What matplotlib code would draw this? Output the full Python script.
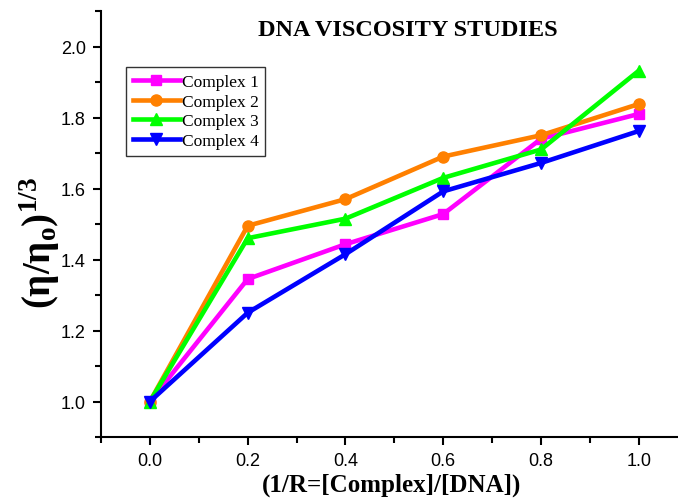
import matplotlib
matplotlib.use("Agg")
import matplotlib.pyplot as plt
from matplotlib.ticker import MultipleLocator

x_ratio = [0.0, 0.2, 0.4, 0.6, 0.8, 1.0]
complex_1 = [1.0, 1.345, 1.443, 1.528, 1.74, 1.81]
complex_2 = [1.0, 1.495, 1.57, 1.69, 1.75, 1.838]
complex_3 = [1.0, 1.46, 1.515, 1.63, 1.71, 1.932]
complex_4 = [1.0, 1.25, 1.415, 1.592, 1.672, 1.762]
labels = ["Complex 1", "Complex 2", "Complex 3", "Complex 4"]

plt.rcParams["mathtext.fontset"] = "custom"
plt.rcParams["mathtext.rm"] = "Liberation Serif"
plt.rcParams["mathtext.it"] = "Liberation Serif:italic"
plt.rcParams["mathtext.bf"] = "Liberation Serif:bold"

fig = plt.figure(figsize=(6.78, 5.02), dpi=100)
ax = fig.add_axes([101 / 678, 64 / 502, 577 / 678, 426 / 502])

styles = [("#ff00ff", "s", 7), ("#ff8000", "o", 8), ("#00ff00", "^", 8), ("#0000ff", "v", 8)]
for ys, lab, (col, mk, ms) in zip([complex_1, complex_2, complex_3, complex_4], labels, styles):
    ax.plot(x_ratio, ys, color=col, marker=mk, markersize=ms, linewidth=3.3, label=lab, clip_on=False)

ax.set_xlim(-0.1, 1.08)
ax.set_ylim(0.9, 2.1)
ax.xaxis.set_minor_locator(MultipleLocator(0.1))
ax.yaxis.set_minor_locator(MultipleLocator(0.1))
ax.set_xticks([0.0, 0.2, 0.4, 0.6, 0.8, 1.0])
ax.set_yticks([1.0, 1.2, 1.4, 1.6, 1.8, 2.0])

for s in ["top", "right"]:
    ax.spines[s].set_visible(False)
for s in ["left", "bottom"]:
    ax.spines[s].set_linewidth(1.5)
ax.tick_params(which="major", direction="out", length=6, width=1.5, labelsize=13, pad=5)
ax.tick_params(which="minor", direction="out", length=4, width=1.5)
for t in ax.get_xticklabels() + ax.get_yticklabels():
    t.set_fontfamily("Liberation Sans")

ax.set_xlabel("(1/R=[Complex]/[DNA])", fontsize=18, fontweight="bold", family="Liberation Serif")
ax.xaxis.set_label_coords((392 - 101) / 577, -(474 - 438) / 426)
ax.set_ylabel(r"$\mathbf{(\eta/\eta_o)^{1/3}}$", fontsize=28)
ax.yaxis.set_label_coords(-(101 - 62) / 577, (438 - 243) / 426)

fig.text(408 / 678, 1 - 31 / 502, "DNA VISCOSITY STUDIES", ha="center", va="center",
         fontsize=17.5, fontweight="bold", family="Liberation Serif")

leg = ax.legend(loc="upper left", bbox_to_anchor=(25 / 577, (426 - 56) / 426), fancybox=False,
                edgecolor="black", handlelength=2.7, borderpad=0.4, labelspacing=0.2,
                handletextpad=0.1, numpoints=1, borderaxespad=0,
                prop={"family": "Liberation Serif", "size": 12.5})
leg.get_frame().set_linewidth(1.0)

fig.savefig("out.png", dpi=100)
